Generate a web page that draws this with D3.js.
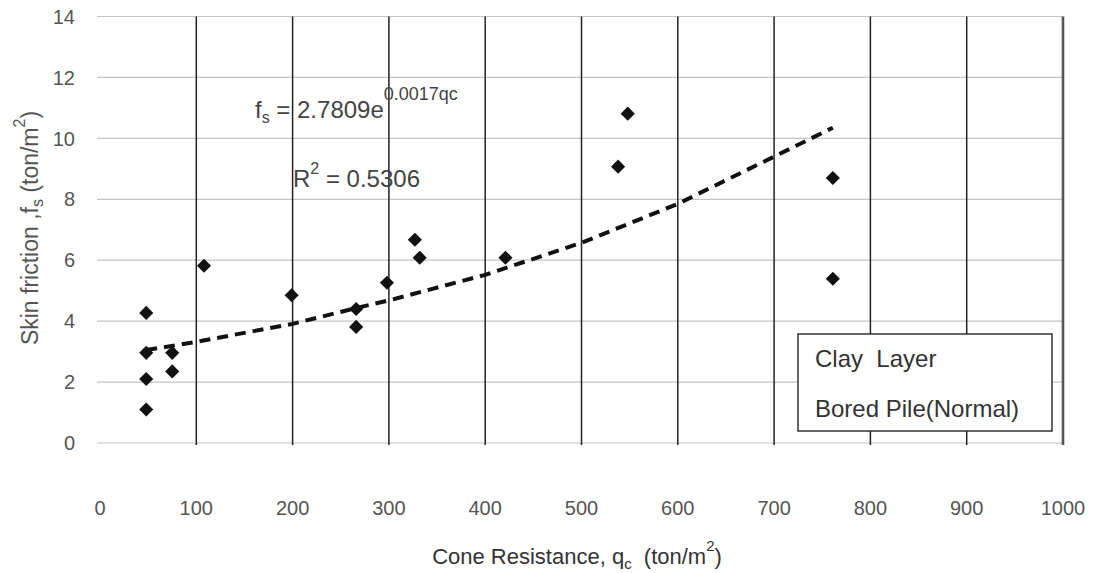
<!DOCTYPE html>
<html>
<head>
<meta charset="utf-8">
<script src="https://cdn.jsdelivr.net/npm/d3@7"></script>
<style>
  body { margin: 0; background: #fff; }
  svg { display: block; font-family: "Liberation Sans", Arial, sans-serif; }
</style>
</head>
<body>
<div id="chart"></div>
<script>
// measured points: cone resistance qc vs skin friction fs
const qcValues = [48, 48, 48, 48, 75, 75, 108, 199, 266, 266, 298, 327, 332, 421, 538, 548, 761, 761];
const fsValues = [4.27, 2.96, 2.1, 1.1, 2.96, 2.35, 5.82, 4.85, 4.4, 3.81, 5.26, 6.67, 6.08, 6.08, 9.07, 10.81, 8.7, 5.39];

// exponential trendline
const trendQc = [48, 100, 200, 266, 300, 400, 500, 600, 700, 761];
const trendFs = [3.05, 3.32, 3.91, 4.43, 4.68, 5.52, 6.57, 7.85, 9.4, 10.35];

const xTicks = [0, 100, 200, 300, 400, 500, 600, 700, 800, 900, 1000];
const yTicks = [0, 2, 4, 6, 8, 10, 12, 14];

const width = 1100, height = 573;
const plotLeft = 100, plotRight = 1063, plotTop = 16.5, plotBottom = 443;

const svg = d3.select("#chart").append("svg")
  .attr("width", width)
  .attr("height", height);

const x = d3.scaleLinear().domain([0, 1000]).range([plotLeft, plotRight]);
const y = d3.scaleLinear().domain([0, 14]).range([plotBottom, plotTop]);

// horizontal grid (light)
svg.append("g")
  .selectAll("line")
  .data(yTicks)
  .join("line")
  .attr("x1", plotLeft - 3)
  .attr("x2", plotRight)
  .attr("y1", d => y(d))
  .attr("y2", d => y(d))
  .attr("stroke", "#c4c4c4")
  .attr("stroke-width", 1.2);

// vertical grid (dark)
svg.append("g")
  .selectAll("line")
  .data(xTicks.slice(1, -1))
  .join("line")
  .attr("x1", d => x(d))
  .attr("x2", d => x(d))
  .attr("y1", plotTop)
  .attr("y2", plotBottom + 2)
  .attr("stroke", "#222")
  .attr("stroke-width", 1.5);

// right border
svg.append("line")
  .attr("x1", x(1000)).attr("x2", x(1000))
  .attr("y1", plotTop).attr("y2", plotBottom + 2)
  .attr("stroke", "#555")
  .attr("stroke-width", 2.6);

// y tick labels
svg.append("g")
  .selectAll("text")
  .data(yTicks)
  .join("text")
  .attr("x", 75)
  .attr("y", d => y(d))
  .attr("dy", "0.36em")
  .attr("text-anchor", "end")
  .attr("font-size", 20)
  .attr("fill", "#555")
  .text(d => d);

// x tick labels
svg.append("g")
  .selectAll("text")
  .data(xTicks)
  .join("text")
  .attr("x", d => x(d))
  .attr("y", 515)
  .attr("text-anchor", "middle")
  .attr("font-size", 20)
  .attr("fill", "#555")
  .text(d => d);

// trendline
const trend = trendQc.map((q, i) => [q, trendFs[i]]);
svg.append("path")
  .datum(trend)
  .attr("fill", "none")
  .attr("stroke", "#111")
  .attr("stroke-width", 4)
  .attr("stroke-dasharray", "11,7")
  .attr("d", d3.line().x(d => x(d[0])).y(d => y(d[1])));

// diamonds
const diamond = d3.symbol().type(d3.symbolSquare).size(100);
svg.append("g")
  .selectAll("path")
  .data(qcValues.map((q, i) => [q, fsValues[i]]))
  .join("path")
  .attr("d", diamond)
  .attr("transform", d => `translate(${x(d[0])},${y(d[1])}) rotate(45)`)
  .attr("fill", "#111");

// equation + R2
const eq = svg.append("text")
  .attr("x", 255).attr("y", 118)
  .attr("font-size", 24)
  .attr("fill", "#444");
eq.append("tspan").text("f");
eq.append("tspan").attr("font-size", 16).attr("dy", 5).text("s");
eq.append("tspan").attr("dy", -5).text(" = 2.7809e");
eq.append("tspan").attr("font-size", 18).attr("dy", -18).text("0.0017qc");

const r2 = svg.append("text")
  .attr("x", 293).attr("y", 187)
  .attr("font-size", 24)
  .attr("fill", "#444");
r2.append("tspan").text("R");
r2.append("tspan").attr("font-size", 16).attr("dy", -13).text("2");
r2.append("tspan").attr("dy", 13).text(" = 0.5306");

// legend box
svg.append("rect")
  .attr("x", 798).attr("y", 334)
  .attr("width", 254).attr("height", 97)
  .attr("fill", "#fff")
  .attr("stroke", "#333")
  .attr("stroke-width", 1.5);
svg.append("text")
  .attr("x", 815).attr("y", 367)
  .attr("font-size", 24)
  .attr("fill", "#333")
  .text("Clay\u00a0\u00a0Layer");
svg.append("text")
  .attr("x", 815).attr("y", 417)
  .attr("font-size", 24)
  .attr("fill", "#333")
  .text("Bored Pile(Normal)");

// axis titles
const xt = svg.append("text")
  .attr("x", 577).attr("y", 564)
  .attr("text-anchor", "middle")
  .attr("font-size", 22)
  .attr("fill", "#333");
xt.append("tspan").text("Cone Resistance, q");
xt.append("tspan").attr("font-size", 15).attr("dy", 5).text("c");
xt.append("tspan").attr("dy", -5).text("\u00a0\u00a0(ton/m");
xt.append("tspan").attr("font-size", 15).attr("dy", -13).text("2");
xt.append("tspan").attr("dy", 13).text(")");

const yt = svg.append("text")
  .attr("transform", "translate(38,228) rotate(-90)")
  .attr("text-anchor", "middle")
  .attr("font-size", 23)
  .attr("fill", "#555");
yt.append("tspan").text("Skin friction ,f");
yt.append("tspan").attr("font-size", 16).attr("dy", 5).text("s");
yt.append("tspan").attr("dy", -5).text(" (ton/m");
yt.append("tspan").attr("font-size", 16).attr("dy", -13).text("2");
yt.append("tspan").attr("dy", 13).text(")");
</script>
</body>
</html>
